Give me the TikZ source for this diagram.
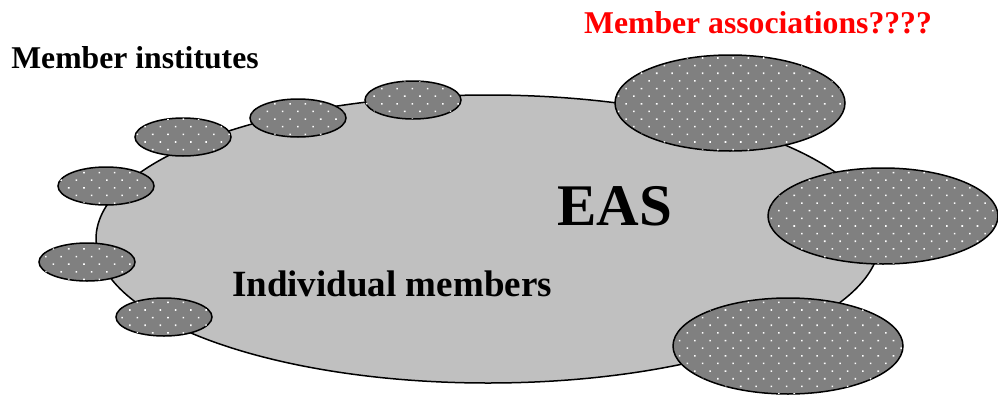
\documentclass[tikz,border=0pt]{standalone}
\usepackage{fontspec}
\setmainfont{Liberation Serif}
\usetikzlibrary{shapes.geometric,patterns.meta}
\definecolor{societygray}{RGB}{192,192,192}
\definecolor{memberfill}{RGB}{128,128,128}
\begin{document}
\begin{tikzpicture}[x=1pt,y=-1pt,
  blob/.style={ellipse,draw=black,line width=1.5pt,inner sep=0pt,
    fill=memberfill,
    postaction={pattern={Dots[distance=10.8pt,radius=1.1pt,angle=45]},pattern color=white}},
  institute/.style={blob,minimum width=96pt,minimum height=38pt},
  association/.style={blob,minimum width=230pt,minimum height=96pt},
  lbl/.style={font=\bfseries,anchor=base,inner sep=0pt}]
\useasboundingbox (0,0) rectangle (998,394);
% the society itself
\node[ellipse,draw=black,line width=1.5pt,fill=societygray,
  minimum width=784pt,minimum height=288pt,inner sep=0pt] (eas) at (488,239) {};
% member institutes around the rim
\node[institute] (i1) at (183,137) {};
\node[institute] (i2) at (298,118) {};
\node[institute] (i3) at (413,100) {};
\node[institute] (i4) at (106,186) {};
\node[institute] (i5) at (87,262) {};
\node[institute] (i6) at (164,317) {};
% member associations
\node[association] (a1) at (730,103) {};
\node[association] (a2) at (883,216) {};
\node[association] (a3) at (788,346) {};
% labels
\node[lbl,font=\bfseries\fontsize{59}{59}\selectfont] (easlbl) at (615,225) {EAS};
\node[lbl,font=\bfseries\fontsize{37}{37}\selectfont] (indiv) at (392,296) {Individual members};
\node[lbl,font=\bfseries\fontsize{31.7}{32}\selectfont] (inst) at (135,68) {Member institutes};
\node[lbl,font=\bfseries\fontsize{31.7}{32}\selectfont,text=red] (assoc) at (758,33) {Member associations????};
\end{tikzpicture}
\end{document}
